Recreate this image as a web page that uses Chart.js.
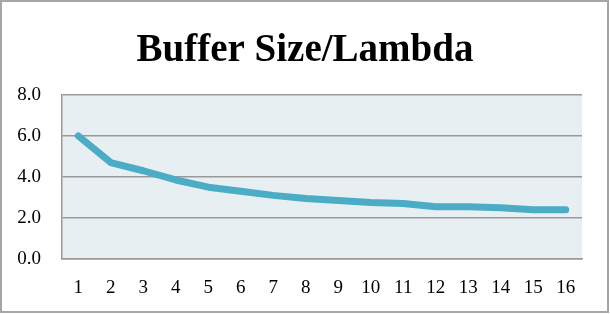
<!DOCTYPE html>
<html>
<head>
<meta charset="utf-8">
<script src="https://cdn.jsdelivr.net/npm/chart.js@4/dist/chart.umd.min.js"></script>
<style>
  body { margin: 0; background: #fff; }
  #wrap { width: 610px; height: 314px; position: relative; }
</style>
</head>
<body>
<div id="wrap"><canvas id="buffer-chart"></canvas></div>
<script>
"use strict";

let labels = ["1", "2", "3", "4", "5", "6", "7", "8", "9", "10", "11", "12", "13", "14", "15", "16"];
let bufferValues = [6.0, 4.7, 4.3, 3.85, 3.5, 3.3, 3.1, 2.95, 2.85, 2.75, 2.7, 2.55, 2.55, 2.5, 2.4, 2.4];
let yTicks = [0, 2, 4, 6, 8];

let serif = "'Liberation Serif', 'DejaVu Serif', serif";

// plot background and outer frame
let framePlugin = {
  id: "frame",
  beforeDraw(chart) {
    let ctx = chart.ctx;
    let a = chart.chartArea;
    ctx.save();
    ctx.fillStyle = "#ffffff";
    ctx.fillRect(0, 0, chart.width, chart.height);
    ctx.fillStyle = "#E8EFF3";
    ctx.fillRect(a.left, a.top, a.right - a.left, a.bottom - a.top);
    ctx.restore();
  },
  afterDraw(chart) {
    let ctx = chart.ctx;
    ctx.save();
    ctx.strokeStyle = "#A6A6A6";
    ctx.lineWidth = 2;
    ctx.strokeRect(1, 1, chart.width - 3, chart.height - 3);
    ctx.restore();
  }
};

let ctx = document.getElementById("buffer-chart");
let chart = new Chart(ctx, {
  type: "line",
  data: {
    labels: labels,
    datasets: [
      {
        label: "Buffer Size/Lambda",
        data: bufferValues,
        borderColor: "#4BACC6",
        borderWidth: 7,
        pointRadius: 0,
        borderCapStyle: "round",
        borderJoinStyle: "round",
        tension: 0
      }
    ]
  },
  options: {
    responsive: true,
    maintainAspectRatio: false,
    animation: false,
    layout: { padding: 0 },
    plugins: {
      legend: { display: false },
      tooltip: { enabled: false },
      title: {
        display: true,
        text: "Buffer Size/Lambda",
        color: "#000",
        font: { family: serif, size: 39, weight: "bold", lineHeight: 1.2 },
        padding: { top: 28, bottom: 20 }
      }
    },
    scales: {
      x: {
        offset: true,
        grid: { display: false, drawTicks: false, offset: true },
        border: { display: true, color: "#999999", width: 1.5 },
        ticks: { color: "#000", font: { family: serif, size: 19 }, padding: 18, maxRotation: 0 },
        afterFit(scale) { scale.height = 55; }
      },
      y: {
        min: 0,
        max: 8,
        afterBuildTicks(scale) { scale.ticks = yTicks.map(v => ({ value: v })); },
        grid: { color: "#999999", lineWidth: 1.5, drawTicks: false },
        border: { display: true, color: "#999999", width: 1.5 },
        ticks: {
          color: "#000",
          font: { family: serif, size: 19 },
          padding: 21,
          callback: v => v.toFixed(1)
        },
        afterFit(scale) { scale.width = 62; }
      },
      // empty right axis just to reserve the right margin
      yRight: {
        position: "right",
        min: 0,
        max: 8,
        grid: { display: false, drawTicks: false },
        border: { display: false },
        ticks: { display: false },
        afterFit(scale) { scale.width = 28; }
      }
    }
  },
  plugins: [framePlugin]
});
</script>
</body>
</html>
